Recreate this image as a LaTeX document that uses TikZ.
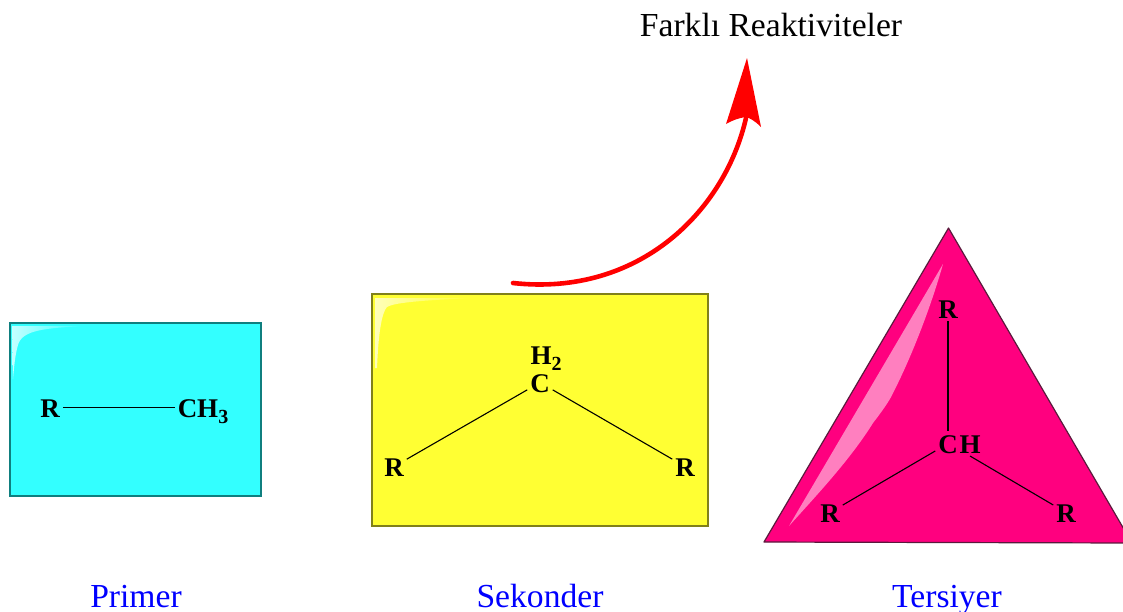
\documentclass[tikz,border=0pt]{standalone}
\usepackage{fontspec}
\setmainfont{Liberation Serif}
\definecolor{cyanfill}{HTML}{33FFFF}
\definecolor{cyanedge}{HTML}{0F7F7F}
\definecolor{cyanglow}{HTML}{C4FFFF}
\definecolor{yellowfill}{HTML}{FFFF33}
\definecolor{yellowedge}{HTML}{80801A}
\definecolor{yellowglow}{HTML}{FFFFB8}
\definecolor{pinkfill}{HTML}{FF007F}
\definecolor{pinkedge}{HTML}{5A1A3C}
\definecolor{pinkglow}{HTML}{FF7FBF}
\tikzset{
  atom/.style={anchor=base,inner sep=3pt,outer sep=0pt,text height=19pt,text depth=0pt,font=\fontsize{27}{27}\selectfont\bfseries},
  bond/.style={draw=black,line width=1.1pt},
  lbl/.style={anchor=base,inner sep=0pt,font=\fontsize{33.6}{33.6}\selectfont},
  box/.style={line width=1.2pt}
}
\newcommand{\subdigit}[1]{\raisebox{-6pt}{\fontsize{20}{20}\selectfont\bfseries #1}}
\begin{document}
\begin{tikzpicture}[x=1pt,y=-1pt]
\useasboundingbox (0,0) rectangle (1123,611);
\clip (0,0) rectangle (1123,611);
% Primer box
\draw[box,draw=cyanedge,fill=cyanfill] (10,323) rectangle (261,496);
\shade[left color=cyanglow,right color=cyanfill] (12,326) -- (86,326) .. controls (45,328) and (22,330) .. (18,345) .. controls (15,355) and (14,368) .. (13,379) -- cycle;
\node[atom] (pr) at (50,417) {R};
\node[atom] (pch) at (203,417) {CH\subdigit{3}};
\draw[bond] (pr.east) -- (pch.west);
% Sekonder box
\draw[box,draw=yellowedge,fill=yellowfill] (372,294) rectangle (708,526);
\shade[left color=yellowglow,right color=yellowfill] (375,298) -- (474,298) .. controls (430,300) and (395,302) .. (387,307) .. controls (380,315) and (378,345) .. (377,368) -- (375,368) -- cycle;
\node[atom] (sh) at (546,364) {H\subdigit{2}};
\node[atom] (sc) at (540,392) {C};
\node[atom] (sl) at (394,476) {R};
\node[atom] (sr) at (685,476) {R};
\draw[bond] (sc) -- (sl);
\draw[bond] (sc) -- (sr);
% Tersiyer triangle
\draw[line width=1.2pt,draw=pinkedge,fill=pinkfill,line join=round] (948.5,228) -- (1132,543) -- (764,542) -- cycle;
\fill[pinkglow] (943,264) -- (789,526) .. controls (815,497) and (850,460) .. (873,423) .. controls (883,410) and (890,400) .. (893,393) .. controls (910,360) and (930,310) .. (943,264) -- cycle;
\node[atom] (tt) at (948,318) {R};
\node[atom] (tc) at (948,453) {C};
\node[atom] (th) at (970,453) {H};
\node[atom] (tl) at (830,522) {R};
\node[atom] (tr) at (1066,522) {R};
\draw[bond] (tt.south) -- (tc.north);
\draw[bond] (tc) -- (tl);
\draw[bond] (th.south) -- (tr);
% Arrow
\coordinate (astart) at (513,283);
\coordinate (aend) at (746,118);
\draw[red,line width=4.6pt,line cap=round] (astart) .. controls (640,297) and (725,210) .. (aend);
\fill[red] (747,58) -- (761,127) .. controls (755,121) and (750,118) .. (745.7,117) .. controls (739,118) and (733,120) .. (726,124) -- cycle;
% Labels
\node[lbl] (title) at (771,36) {Farklı Reaktiviteler};
\node[lbl,text=blue] (l1) at (136,607) {Primer};
\node[lbl,text=blue] (l2) at (540,607) {Sekonder};
\node[lbl,text=blue] (l3) at (947,607) {Tersiyer};
\end{tikzpicture}
\end{document}
